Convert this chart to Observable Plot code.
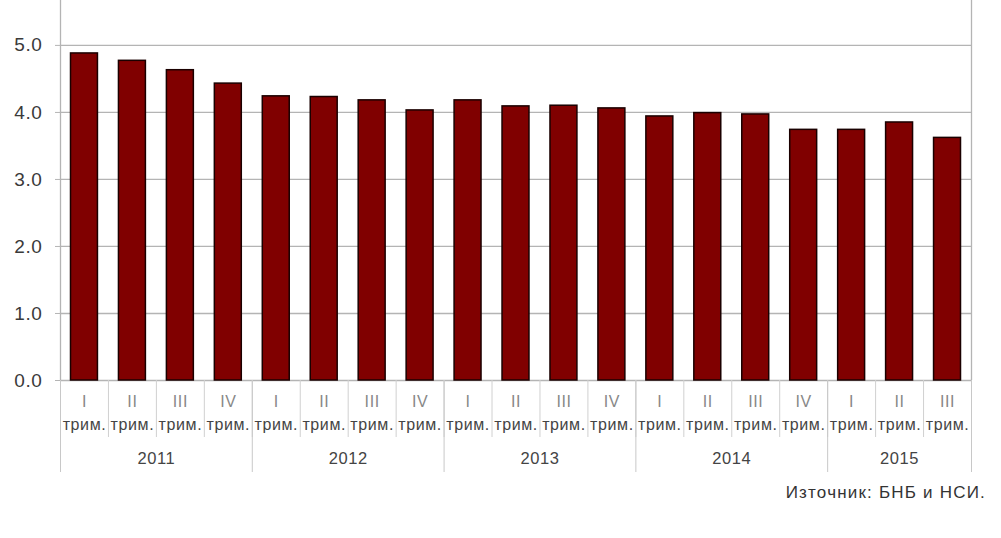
<!DOCTYPE html>
<html>
<head>
<meta charset="utf-8">
<script src="https://cdn.jsdelivr.net/npm/d3@7"></script>
<script src="https://cdn.jsdelivr.net/npm/@observablehq/plot@0.6"></script>
<style>
  html, body { margin: 0; padding: 0; background: #fff; }
  #chart svg { display: block; }
  #caption { font-family: "Liberation Sans", Arial, sans-serif; font-size: 17px; color: #333;
             letter-spacing: 1.2px; text-align: right; padding-right: 15px; line-height: 20px; margin-top: 3px; }
</style>
</head>
<body>
<div id="chart"></div>
<div id="caption">Източник: БНБ и НСИ.</div>
<script>
const years = ["2011", "2012", "2013", "2014", "2015"];
const quartersPerYear = [4, 4, 4, 4, 3];
const quarterLabels = ["I", "II", "III", "IV", "I", "II", "III", "IV", "I", "II", "III", "IV",
                       "I", "II", "III", "IV", "I", "II", "III"];
const quarterUnit = "трим.";
const values = [4.88, 4.77, 4.63, 4.43, 4.24, 4.23, 4.18, 4.03, 4.18, 4.09, 4.10, 4.06,
                3.94, 3.99, 3.97, 3.74, 3.74, 3.85, 3.62];
const yTicks = [0, 1, 2, 3, 4, 5];

const data = values.map((v, i) => ({i, v, q: quarterLabels[i]}));
const yearBounds = [0];
quartersPerYear.forEach(n => yearBounds.push(yearBounds[yearBounds.length - 1] + n));
const yearCenters = years.map((y, k) => ({year: y, x: (yearBounds[k] + yearBounds[k + 1]) / 2}));
const quarterBounds = d3.range(0, values.length + 1);

const font = "Liberation Sans, Arial, sans-serif";

const chart = Plot.plot({
  width: 1001,
  height: 480,
  marginLeft: 60,
  marginRight: 30,
  marginTop: 0,
  marginBottom: 100,
  style: {fontFamily: font, background: "#fff", letterSpacing: "0.6px"},
  x: {domain: [0, values.length]},
  y: {domain: [0, 5.67]},
  marks: [
    Plot.gridY(yTicks, {stroke: "#b4b4b4", strokeOpacity: 1, strokeWidth: 1.3}),
    Plot.axisY(yTicks, {tickSize: 5, stroke: "#b4b4b4", tickPadding: 13, label: null,
      tickFormat: d => d.toFixed(1), fontSize: 19, fill: "#3a3a3a"}),
    Plot.ruleX([0, values.length], {stroke: "#b4b4b4", strokeWidth: 1.3}),
    Plot.axisX(quarterBounds, {tickSize: 57, stroke: "#d0d0d0", tickFormat: () => "", label: null}),
    Plot.axisX(yearBounds, {tickSize: 92, stroke: "#c8c8c8", tickFormat: () => "", label: null}),
    Plot.rectY(data, {x1: "i", x2: d => d.i + 1, y: "v", fill: "#800000", stroke: "#1a0000",
      strokeWidth: 1.5, insetLeft: 10.5, insetRight: 10.5}),
    Plot.text(data, {x: d => d.i + 0.5, text: "q", frameAnchor: "bottom", dy: 26,
      fontSize: 16, fill: "#888"}),
    Plot.text(data, {x: d => d.i + 0.5, text: () => quarterUnit, frameAnchor: "bottom", dy: 49,
      fontSize: 16, fill: "#444"}),
    Plot.text(yearCenters, {x: "x", text: "year", frameAnchor: "bottom", dy: 83,
      fontSize: 16.5, fill: "#444"})
  ]
});
document.getElementById("chart").appendChild(chart);
</script>
</body>
</html>
